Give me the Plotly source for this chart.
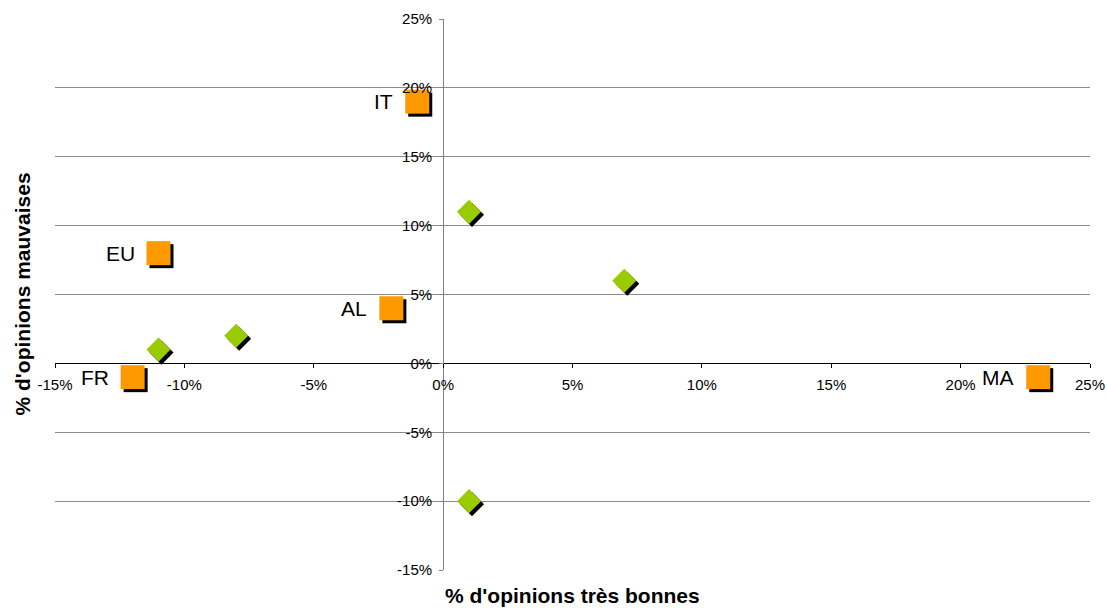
import plotly.graph_objects as go

# Country positions: x = % very good opinions, y = % bad opinions
pays = ["IT", "EU", "AL", "FR", "MA"]
pays_x = [-1, -11, -2, -12, 23]
pays_y = [19, 8, 4, -1, -1]

# Other observations (unlabelled)
autres_x = [1, 7, -11, -8, 1]
autres_y = [11, 6, 1, 2, -10]

tick_vals = [-15, -10, -5, 0, 5, 10, 15, 20, 25]
tick_text = ["-15%", "-10%", "-5%", "0%", "5%", "10%", "15%", "20%", "25%"]

X_RANGE = [-15, 25]
Y_RANGE = [-15, 25]

W, H = 1107, 608
M = dict(l=55, r=17, t=19, b=38, autoexpand=False)
plot_w = W - M["l"] - M["r"]
plot_h = H - M["t"] - M["b"]

# drop shadow offset (pixels) converted to data units
SH = 3
dx = SH * (X_RANGE[1] - X_RANGE[0]) / plot_w
dy = -SH * (Y_RANGE[1] - Y_RANGE[0]) / plot_h

ORANGE = "#FF9900"
GREEN = "#99CC00"
FONT = "Liberation Sans, Arial, sans-serif"

fig = go.Figure()

# shadows
fig.add_trace(go.Scatter(
    x=[v + dx for v in autres_x], y=[v + dy for v in autres_y], mode="markers",
    marker=dict(symbol="diamond", size=18.5, color="black", line=dict(width=0)),
    hoverinfo="skip", showlegend=False))
fig.add_trace(go.Scatter(
    x=[v + dx for v in pays_x], y=[v + dy for v in pays_y], mode="markers",
    marker=dict(symbol="square", size=24, color="black", line=dict(width=0)),
    hoverinfo="skip", showlegend=False))

# markers
fig.add_trace(go.Scatter(
    x=autres_x, y=autres_y, mode="markers",
    marker=dict(symbol="diamond", size=18.5, color=GREEN, line=dict(width=0)),
    showlegend=False))
fig.add_trace(go.Scatter(
    x=pays_x, y=pays_y, mode="markers",
    marker=dict(symbol="square", size=24, color=ORANGE, line=dict(width=0)),
    text=pays, showlegend=False))

# country labels to the left of the squares
for name, xv, yv in zip(pays, pays_x, pays_y):
    fig.add_annotation(x=xv, y=yv, text=name, showarrow=False,
                       xanchor="right", yanchor="middle", xshift=-22,
                       font=dict(family=FONT, size=21, color="black"))

# axis titles
fig.add_annotation(xref="paper", yref="paper", x=0.5, y=0, yanchor="middle",
                   yshift=-25, showarrow=False,
                   text="<b>% d'opinions très bonnes</b>",
                   font=dict(family=FONT, size=21, color="black"))
fig.add_annotation(xref="paper", yref="paper", x=0, y=0.5, xanchor="center",
                   xshift=-33, textangle=-90, showarrow=False,
                   text="<b>% d'opinions mauvaises</b>",
                   font=dict(family=FONT, size=21, color="black"))

x0_frac = (0 - Y_RANGE[0]) / (Y_RANGE[1] - Y_RANGE[0])
y0_frac = (0 - X_RANGE[0]) / (X_RANGE[1] - X_RANGE[0])

fig.update_layout(
    width=W, height=H, margin=M,
    paper_bgcolor="white", plot_bgcolor="white",
    font=dict(family=FONT, size=15, color="black"),
    xaxis=dict(range=X_RANGE, tickvals=tick_vals, ticktext=tick_text,
               showgrid=False, zeroline=False, automargin=False,
               showline=True, linecolor="black", linewidth=1,
               anchor="free", position=x0_frac,
               ticks="outside", ticklen=4, tickcolor="black",
               ticklabelstandoff=4,
               tickfont=dict(family=FONT, size=15, color="black")),
    yaxis=dict(range=Y_RANGE, tickvals=tick_vals, ticktext=tick_text,
               showgrid=True, gridcolor="#8c8c8c", gridwidth=1,
               zeroline=False, automargin=False,
               showline=True, linecolor="#808080", linewidth=1,
               anchor="free", position=y0_frac,
               ticks="outside", ticklen=4, tickcolor="#808080",
               ticklabelstandoff=4,
               tickfont=dict(family=FONT, size=15, color="black")),
)

fig.write_html("out.html")
